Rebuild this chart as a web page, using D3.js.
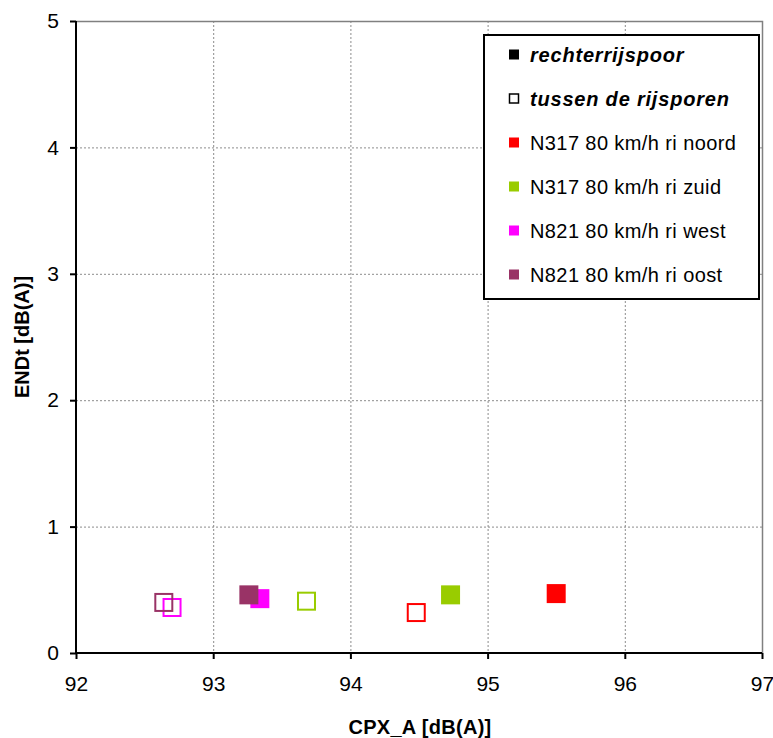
<!DOCTYPE html>
<html>
<head>
<meta charset="utf-8">
<script src="https://cdn.jsdelivr.net/npm/d3@7"></script>
<style>
  body { margin: 0; background: #fff; }
  svg { display: block; font-family: Arial, "Liberation Sans", sans-serif; }
</style>
</head>
<body>
<div id="container"></div>
<script>
// data
const seriesNames = ["N317 80 km/h ri noord", "N317 80 km/h ri zuid", "N821 80 km/h ri west", "N821 80 km/h ri oost"];
const seriesColors = ["#ff0000", "#99cc00", "#ff00ff", "#993366"];
// rechterrijspoor (filled)
const filledCpx = [95.50, 94.73, 93.34, 93.26];
const filledEnd = [0.47, 0.46, 0.43, 0.46];
// tussen de rijsporen (open)
const openCpx = [94.48, 93.68, 92.70, 92.64];
const openEnd = [0.32, 0.41, 0.36, 0.40];
const xTicks = [92, 93, 94, 95, 96, 97];
const yTicks = [0, 1, 2, 3, 4, 5];

const width = 773, height = 738;
const marginTop = 21, marginRight = 11, marginBottom = 85, marginLeft = 76;
const markerSize = 19;

const svg = d3.select("#container").append("svg")
  .attr("width", width)
  .attr("height", height)
  .attr("viewBox", [0, 0, width, height]);

const x = d3.scaleLinear([92, 97], [marginLeft, width - marginRight]);
const y = d3.scaleLinear([0, 5], [height - marginBottom, marginTop]);

// grid
const grid = svg.append("g").attr("stroke", "#8c8c8c").attr("stroke-width", 1);
grid.selectAll(".vx").data(xTicks.slice(1, -1)).join("line")
  .attr("x1", (d) => x(d) + 0.5).attr("x2", (d) => x(d) + 0.5)
  .attr("y1", y(5)).attr("y2", y(0))
  .attr("stroke-dasharray", "2,2");
grid.selectAll(".hy").data(yTicks.slice(1, -1)).join("line")
  .attr("x1", x(92)).attr("x2", x(97))
  .attr("y1", (d) => y(d) + 0.5).attr("y2", (d) => y(d) + 0.5)
  .attr("stroke-dasharray", "2,2");
// plot border (top / right)
svg.append("path")
  .attr("d", `M${x(92)},${y(5) + 0.5}H${x(97) + 0.5}V${y(0)}`)
  .attr("fill", "none")
  .attr("stroke", "#808080")
  .attr("stroke-width", 1.5);

// axes
const xAxis = d3.axisBottom(x).tickValues(xTicks).tickSize(6).tickPadding(17).tickFormat(d3.format("d"));
const yAxis = d3.axisLeft(y).tickValues(yTicks).tickSize(6).tickPadding(11).tickFormat(d3.format("d"));

svg.append("g")
  .attr("transform", `translate(0, ${y(0)})`)
  .call(xAxis)
  .call((g) => g.select(".domain").attr("d", `M${x(92)},0H${x(97)}`).attr("stroke", "#000").attr("stroke-width", 2))
  .call((g) => g.selectAll(".tick line").attr("stroke", "#000").attr("stroke-width", 2))
  .call((g) => g.selectAll(".tick text").attr("font-size", 21).attr("font-family", "Arial, 'Liberation Sans', sans-serif").attr("fill", "#000"));

svg.append("g")
  .attr("transform", `translate(${x(92)}, 0)`)
  .call(yAxis)
  .call((g) => g.select(".domain").attr("d", `M0,${y(5)}V${y(0)}`).attr("stroke", "#000").attr("stroke-width", 2))
  .call((g) => g.selectAll(".tick line").attr("stroke", "#000").attr("stroke-width", 2))
  .call((g) => g.selectAll(".tick text").attr("font-size", 21).attr("font-family", "Arial, 'Liberation Sans', sans-serif").attr("fill", "#000"));

// axis titles
svg.append("text")
  .attr("x", (x(92) + x(97)) / 2 + 1)
  .attr("y", 734)
  .attr("text-anchor", "middle")
  .attr("font-size", 20)
  .attr("font-weight", "bold")
  .attr("letter-spacing", 0.3)
  .text("CPX_A [dB(A)]");

svg.append("text")
  .attr("transform", `translate(29, ${(y(0) + y(5)) / 2}) rotate(-90)`)
  .attr("text-anchor", "middle")
  .attr("font-size", 20)
  .attr("font-weight", "bold")
  .text("ENDt [dB(A)]");

// points
const idx = d3.range(seriesNames.length);
const pts = svg.append("g");
pts.selectAll(".open").data(idx).join("rect")
  .attr("x", (i) => x(openCpx[i]) - (markerSize - 2) / 2)
  .attr("y", (i) => y(openEnd[i]) - (markerSize - 2) / 2)
  .attr("width", markerSize - 2)
  .attr("height", markerSize - 2)
  .attr("fill", "none")
  .attr("stroke", (i) => seriesColors[i])
  .attr("stroke-width", 2);
pts.selectAll(".filled").data(idx).join("rect")
  .attr("x", (i) => x(filledCpx[i]) - markerSize / 2)
  .attr("y", (i) => y(filledEnd[i]) - markerSize / 2)
  .attr("width", markerSize)
  .attr("height", markerSize)
  .attr("fill", (i) => seriesColors[i]);

// legend
const legendItems = [
  { label: "rechterrijspoor", color: "#000", open: false, bold: true },
  { label: "tussen de rijsporen", color: "#000", open: true, bold: true },
  ...seriesNames.map((s, i) => ({ label: s, color: seriesColors[i], open: false, bold: false }))
];

const legend = svg.append("g").attr("transform", "translate(484, 35)");
legend.append("rect")
  .attr("width", 275)
  .attr("height", 264)
  .attr("fill", "#fff")
  .attr("stroke", "#000")
  .attr("stroke-width", 2);

const rows = legend.selectAll(".row").data(legendItems).join("g")
  .attr("transform", (d, i) => `translate(0, ${19.5 + i * 44})`);
rows.append("rect")
  .attr("x", (d) => d.open ? 25.5 : 25)
  .attr("y", (d) => d.open ? -4.5 : -5)
  .attr("width", (d) => d.open ? 9 : 10)
  .attr("height", (d) => d.open ? 9 : 10)
  .attr("fill", (d) => d.open ? "#fff" : d.color)
  .attr("stroke", (d) => d.open ? d.color : "none")
  .attr("stroke-width", 1.5);
rows.append("text")
  .attr("x", 46)
  .attr("dy", "0.36em")
  .attr("font-size", 20)
  .attr("letter-spacing", (d) => d.bold ? 0.8 : 0.4)
  .attr("font-weight", (d) => d.bold ? "bold" : "normal")
  .attr("font-style", (d) => d.bold ? "italic" : "normal")
  .text((d) => d.label);
</script>
</body>
</html>
